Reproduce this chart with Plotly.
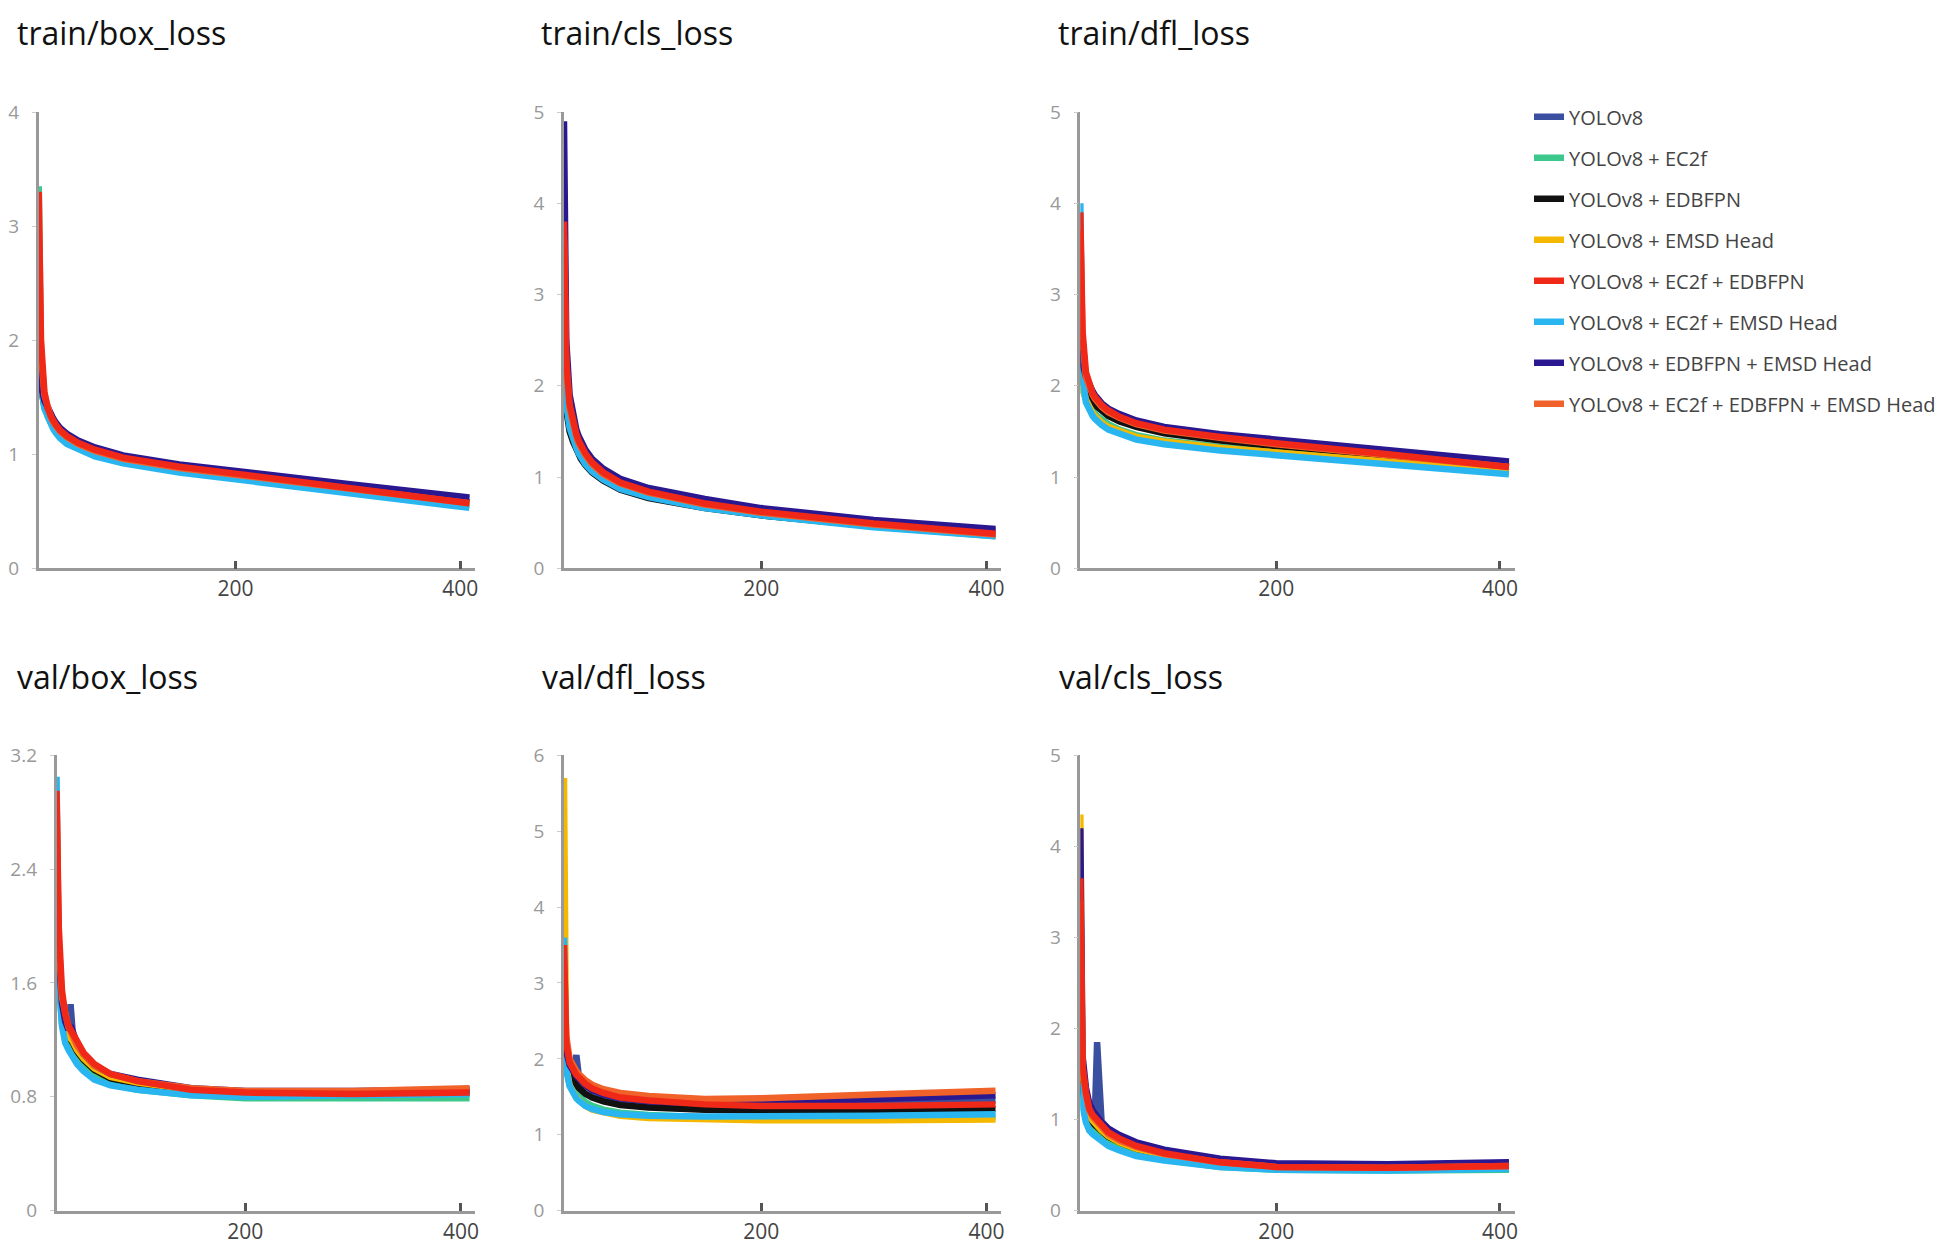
import plotly.graph_objects as go
from plotly.subplots import make_subplots

# the page adds an 8px body margin, so the figure is a little smaller than the window
OFF = 8
W, H = 1949 - 2 * OFF, 1260 - 2 * OFF

# epochs sampled along the curves (denser near the start where they drop fast)
epochs = [25, 27, 30, 33, 36, 38, 40, 44, 50, 60, 75, 100, 150, 200, 300, 408]

series_names = ['YOLOv8', 'YOLOv8 + EC2f', 'YOLOv8 + EDBFPN', 'YOLOv8 + EMSD Head',
                'YOLOv8 + EC2f + EDBFPN', 'YOLOv8 + EC2f + EMSD Head',
                'YOLOv8 + EDBFPN + EMSD Head', 'YOLOv8 + EC2f + EDBFPN + EMSD Head']
series_colors = ['#3a4fa0', '#3cc88c', '#111111', '#f5b800',
                 '#f02818', '#29b6f0', '#2a1890', '#f0622a']

# values, one list per series (same order as series_names)
train_box_loss = [
    [1.9, 1.65, 1.48, 1.4, 1.34, 1.3, 1.27, 1.22, 1.17, 1.11, 1.05, 0.98, 0.9, 0.84, 0.72, 0.61],
    [3.35, 1.8, 1.45, 1.33, 1.27, 1.23, 1.2, 1.15, 1.1, 1.05, 0.99, 0.93, 0.85, 0.79, 0.67, 0.54],
    [1.7, 1.55, 1.42, 1.35, 1.3, 1.26, 1.23, 1.18, 1.13, 1.08, 1.02, 0.95, 0.87, 0.81, 0.69, 0.58],
    [2.4, 1.7, 1.46, 1.37, 1.31, 1.27, 1.24, 1.19, 1.14, 1.08, 1.02, 0.95, 0.87, 0.81, 0.69, 0.56],
    [3.3, 2.0, 1.55, 1.4, 1.33, 1.29, 1.26, 1.21, 1.16, 1.1, 1.04, 0.97, 0.89, 0.83, 0.7, 0.57],
    [2.2, 1.6, 1.4, 1.32, 1.26, 1.22, 1.19, 1.14, 1.09, 1.04, 0.98, 0.92, 0.84, 0.78, 0.66, 0.53],
    [1.8, 1.6, 1.47, 1.4, 1.35, 1.31, 1.28, 1.23, 1.18, 1.12, 1.06, 0.99, 0.91, 0.85, 0.74, 0.62],
    [3.0, 1.9, 1.52, 1.39, 1.32, 1.28, 1.25, 1.2, 1.15, 1.09, 1.03, 0.96, 0.88, 0.82, 0.7, 0.57],
]
train_cls_loss = [
    [2.5, 2.0, 1.7, 1.55, 1.44, 1.38, 1.33, 1.25, 1.16, 1.06, 0.95, 0.85, 0.73, 0.64, 0.51, 0.41],
    [2.2, 1.8, 1.55, 1.42, 1.32, 1.27, 1.22, 1.15, 1.06, 0.97, 0.87, 0.78, 0.67, 0.58, 0.46, 0.35],
    [1.9, 1.7, 1.5, 1.39, 1.3, 1.25, 1.2, 1.13, 1.05, 0.96, 0.86, 0.77, 0.66, 0.58, 0.46, 0.36],
    [2.6, 1.9, 1.6, 1.46, 1.36, 1.3, 1.25, 1.18, 1.09, 1.0, 0.89, 0.8, 0.69, 0.6, 0.47, 0.36],
    [3.8, 2.3, 1.8, 1.6, 1.47, 1.4, 1.34, 1.26, 1.16, 1.05, 0.94, 0.84, 0.71, 0.62, 0.49, 0.38],
    [2.3, 1.8, 1.54, 1.41, 1.32, 1.26, 1.21, 1.14, 1.06, 0.97, 0.87, 0.78, 0.66, 0.58, 0.45, 0.35],
    [4.9, 2.5, 1.9, 1.66, 1.52, 1.45, 1.39, 1.3, 1.2, 1.09, 0.98, 0.88, 0.76, 0.66, 0.53, 0.43],
    [3.6, 2.2, 1.75, 1.56, 1.44, 1.37, 1.32, 1.24, 1.14, 1.03, 0.93, 0.83, 0.7, 0.61, 0.48, 0.37],
]
train_dfl_loss = [
    [2.4, 2.2, 2.05, 1.96, 1.9, 1.86, 1.83, 1.78, 1.72, 1.66, 1.59, 1.52, 1.44, 1.38, 1.27, 1.15],
    [2.1, 1.95, 1.85, 1.78, 1.73, 1.7, 1.67, 1.63, 1.58, 1.52, 1.46, 1.4, 1.33, 1.28, 1.18, 1.06],
    [2.2, 2.05, 1.95, 1.88, 1.83, 1.8, 1.77, 1.72, 1.67, 1.61, 1.55, 1.48, 1.4, 1.34, 1.23, 1.12],
    [2.3, 2.0, 1.85, 1.76, 1.7, 1.67, 1.64, 1.6, 1.55, 1.5, 1.44, 1.39, 1.32, 1.27, 1.17, 1.06],
    [3.9, 2.6, 2.15, 2.0, 1.92, 1.88, 1.84, 1.79, 1.73, 1.66, 1.59, 1.52, 1.44, 1.37, 1.25, 1.11],
    [4.0, 2.1, 1.82, 1.73, 1.67, 1.64, 1.61, 1.57, 1.52, 1.47, 1.41, 1.36, 1.29, 1.24, 1.14, 1.03],
    [2.5, 2.25, 2.1, 2.0, 1.94, 1.9, 1.86, 1.81, 1.75, 1.69, 1.62, 1.55, 1.47, 1.41, 1.29, 1.17],
    [3.7, 2.5, 2.1, 1.97, 1.9, 1.86, 1.82, 1.77, 1.71, 1.65, 1.58, 1.51, 1.43, 1.36, 1.24, 1.11],
]
val_box_loss = [
    [2.6, 1.8, 1.45, 1.32, 1.26, 1.45, 1.25, 1.16, 1.09, 1.01, 0.95, 0.9, 0.85, 0.83, 0.83, 0.84],
    [2.7, 1.6, 1.32, 1.2, 1.15, 1.12, 1.1, 1.05, 1.0, 0.94, 0.89, 0.85, 0.81, 0.79, 0.79, 0.79],
    [2.5, 1.7, 1.4, 1.28, 1.22, 1.2, 1.18, 1.12, 1.06, 0.99, 0.93, 0.89, 0.84, 0.82, 0.82, 0.83],
    [2.8, 1.75, 1.42, 1.3, 1.24, 1.21, 1.19, 1.13, 1.07, 1.0, 0.94, 0.9, 0.85, 0.83, 0.83, 0.85],
    [2.95, 2.0, 1.55, 1.38, 1.3, 1.27, 1.24, 1.18, 1.11, 1.03, 0.96, 0.91, 0.85, 0.83, 0.82, 0.83],
    [3.05, 1.65, 1.3, 1.18, 1.13, 1.1, 1.08, 1.03, 0.98, 0.92, 0.88, 0.85, 0.81, 0.8, 0.81, 0.82],
    [2.6, 1.8, 1.46, 1.33, 1.27, 1.3, 1.26, 1.17, 1.1, 1.02, 0.96, 0.92, 0.86, 0.84, 0.84, 0.85],
    [2.9, 1.9, 1.5, 1.36, 1.29, 1.26, 1.23, 1.16, 1.1, 1.02, 0.96, 0.91, 0.86, 0.84, 0.84, 0.86],
]
val_dfl_loss = [
    [2.4, 2.05, 1.88, 1.8, 2.05, 1.8, 1.74, 1.66, 1.58, 1.52, 1.46, 1.41, 1.37, 1.37, 1.41, 1.45],
    [3.7, 1.9, 1.7, 1.6, 1.54, 1.51, 1.48, 1.43, 1.38, 1.33, 1.29, 1.26, 1.23, 1.22, 1.22, 1.23],
    [2.6, 2.0, 1.82, 1.72, 1.66, 1.62, 1.59, 1.54, 1.49, 1.44, 1.39, 1.36, 1.33, 1.32, 1.33, 1.34],
    [5.7, 1.9, 1.65, 1.55, 1.49, 1.46, 1.43, 1.38, 1.33, 1.29, 1.25, 1.22, 1.2, 1.19, 1.19, 1.2],
    [3.5, 2.2, 1.95, 1.85, 1.79, 1.76, 1.73, 1.67, 1.61, 1.55, 1.49, 1.45, 1.4, 1.38, 1.38, 1.4],
    [3.6, 1.85, 1.64, 1.54, 1.48, 1.45, 1.42, 1.38, 1.34, 1.3, 1.27, 1.25, 1.24, 1.24, 1.25, 1.27],
    [2.5, 2.1, 1.92, 1.83, 1.77, 1.74, 1.71, 1.65, 1.59, 1.53, 1.48, 1.44, 1.41, 1.42, 1.47, 1.52],
    [3.3, 2.3, 2.0, 1.9, 1.84, 1.8, 1.77, 1.72, 1.66, 1.6, 1.55, 1.51, 1.47, 1.48, 1.53, 1.58],
]
val_cls_loss = [
    [1.6, 1.4, 1.2, 1.08, 1.05, 1.05, 1.85, 0.98, 0.9, 0.82, 0.74, 0.66, 0.56, 0.51, 0.5, 0.52],
    [1.5, 1.2, 1.0, 0.92, 0.87, 0.85, 0.83, 0.79, 0.74, 0.68, 0.62, 0.56, 0.48, 0.45, 0.44, 0.45],
    [1.7, 1.35, 1.12, 1.02, 0.97, 0.94, 0.92, 0.87, 0.81, 0.75, 0.68, 0.61, 0.52, 0.48, 0.47, 0.48],
    [4.35, 1.5, 1.2, 1.05, 0.99, 0.96, 0.93, 0.88, 0.82, 0.75, 0.68, 0.61, 0.52, 0.47, 0.46, 0.47],
    [3.65, 1.6, 1.3, 1.12, 1.05, 1.02, 0.99, 0.93, 0.86, 0.79, 0.71, 0.63, 0.53, 0.48, 0.47, 0.49],
    [1.4, 1.15, 0.97, 0.88, 0.84, 0.82, 0.8, 0.76, 0.71, 0.66, 0.6, 0.55, 0.48, 0.45, 0.44, 0.46],
    [4.2, 1.7, 1.35, 1.18, 1.1, 1.06, 1.03, 0.97, 0.9, 0.83, 0.75, 0.67, 0.57, 0.52, 0.51, 0.53],
    [3.4, 1.55, 1.27, 1.1, 1.03, 1.0, 0.97, 0.91, 0.84, 0.77, 0.7, 0.62, 0.53, 0.48, 0.47, 0.49],
]

panel_titles = ['train/box_loss', 'train/cls_loss', 'train/dfl_loss',
                'val/box_loss', 'val/dfl_loss', 'val/cls_loss']
panel_data = [train_box_loss, train_cls_loss, train_dfl_loss,
              val_box_loss, val_dfl_loss, val_cls_loss]
panel_yticks = [[0, 1, 2, 3, 4], [0, 1, 2, 3, 4, 5], [0, 1, 2, 3, 4, 5],
                [0, 0.8, 1.6, 2.4, 3.2], [0, 1, 2, 3, 4, 5, 6], [0, 1, 2, 3, 4, 5]]
x_ticks = [200, 400]

# red curve sits on top of the others in the picture
draw_order = [0, 1, 2, 3, 5, 6, 7, 4]


def fx(px):
    return (px - OFF) / W


def fy(px):
    return 1 - (px - OFF) / H


fig = make_subplots(rows=2, cols=3)

for p, data in enumerate(panel_data):
    row, col = p // 3 + 1, p % 3 + 1
    for i in draw_order:
        fig.add_trace(go.Scatter(
            x=epochs, y=data[i], mode='lines', name=series_names[i],
            line=dict(color=series_colors[i], width=6.5),
            legendgroup=series_names[i], legendrank=i + 1,
            showlegend=(p == 0)), row=row, col=col)

# window-pixel boxes of the six plot areas: (left, right, top, bottom)
boxes = [(31, 472, 101, 567), (562, 1004, 101, 567), (1084, 1523, 101, 567),
         (49, 472, 758, 1223), (562, 1004, 758, 1223), (1084, 1523, 758, 1223)]
title_pos = [(7, 20), (537, 20), (1059, 20), (7, 677), (538, 677), (1060, 677)]

for p in range(6):
    l, r, t, b = boxes[p]
    ax = '' if p == 0 else str(p + 1)
    yt = panel_yticks[p]
    fig.layout['xaxis' + ax].update(
        domain=[fx(l), fx(r)], range=[25, 413], tickvals=x_ticks,
        showline=True, linecolor='#999999', linewidth=2.5,
        ticks='inside', ticklen=8, tickwidth=3, tickcolor='#555555',
        showgrid=False, zeroline=False,
        tickfont=dict(size=21, color='#444444', family='Open Sans'))
    fig.layout['yaxis' + ax].update(
        domain=[fy(b), fy(t)], range=[0, yt[-1]], tickvals=yt,
        ticktext=[('%g' % v) for v in yt],
        showline=True, linecolor='#999999', linewidth=2.5,
        ticks='outside', ticklen=4, tickwidth=1, tickcolor='#cccccc',
        ticklabelstandoff=9,
        showgrid=False, zeroline=False,
        tickfont=dict(size=19, color='#999999', family='Open Sans'))
    tx, ty = title_pos[p]
    fig.add_annotation(text=panel_titles[p], xref='paper', yref='paper',
                       x=fx(tx), y=fy(ty), xanchor='left', yanchor='middle',
                       showarrow=False,
                       font=dict(size=32, color='#111111', family='Open Sans'))

fig.update_layout(
    width=W, height=H,
    margin=dict(l=0, r=0, t=0, b=0),
    paper_bgcolor='white', plot_bgcolor='white',
    legend=dict(x=fx(1538), y=fy(86), xanchor='left', yanchor='top',
                font=dict(size=20, color='#444444', family='Open Sans'),
                tracegroupgap=12, bgcolor='rgba(0,0,0,0)'),
)

fig.write_html("out.html")
